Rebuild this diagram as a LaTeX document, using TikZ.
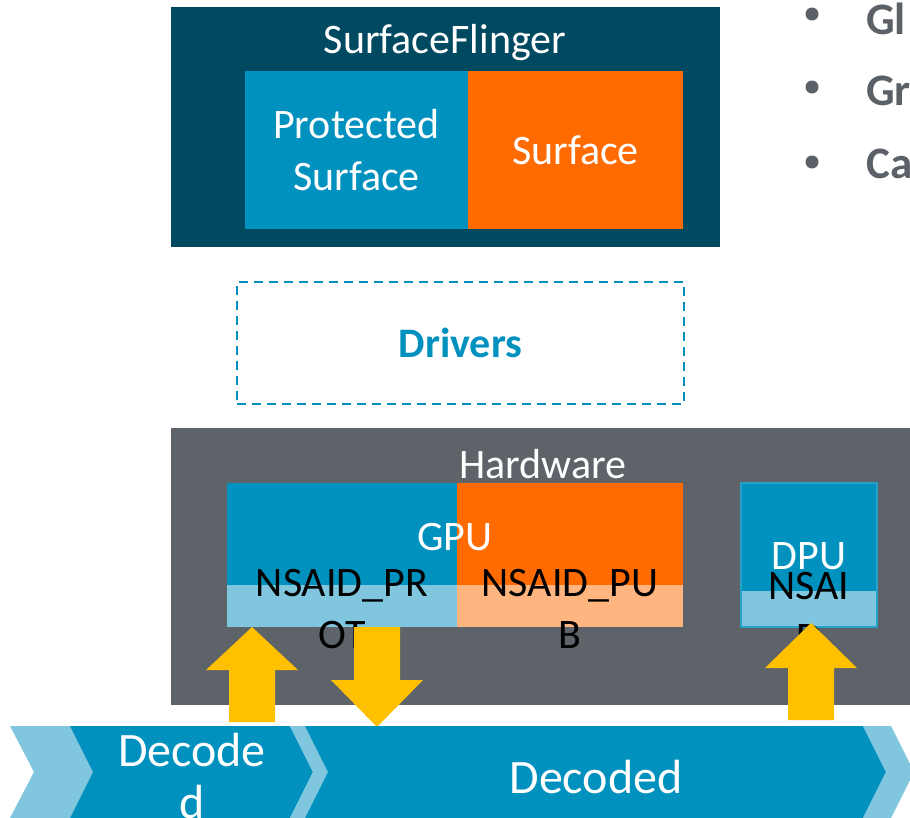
\documentclass[tikz,border=0pt]{standalone}
\usepackage{fontspec}
\setmainfont{Carlito}
\definecolor{sfdark}{HTML}{004A61}
\definecolor{prot}{HTML}{0091BE}
\definecolor{pub}{HTML}{FF6B00}
\definecolor{protlight}{HTML}{7FC6DE}
\definecolor{publight}{HTML}{FFB580}
\definecolor{hwgray}{HTML}{5D6369}
\definecolor{flow}{HTML}{FFC000}
\definecolor{bullet}{HTML}{5B6167}
\begin{document}
\begin{tikzpicture}[x=1pt,y=-1pt,
  blk/.style={inner sep=0pt,outer sep=0pt,anchor=north west,draw=none},
  lbl/.style={font=\fontsize{42}{52}\selectfont,align=center,inner sep=0pt,text=white},
  blacklbl/.style={lbl,text=black},
  bandlbl/.style={lbl,font=\fontsize{48}{52}\selectfont},
  flowarrow/.style={fill=flow},
  bulletitem/.style={font=\bfseries\fontsize{45}{52}\selectfont,text=bullet,anchor=west,inner sep=0pt}]
\useasboundingbox (0,0) rectangle (910,817);
\clip (0,0) rectangle (910,817);

% SurfaceFlinger and its surfaces
\node[blk,fill=sfdark,minimum width=549pt,minimum height=240pt] (sf) at (171,7) {};
\node[blk,fill=prot,minimum width=223pt,minimum height=158pt] (psurf) at (245,71) {};
\node[blk,fill=pub,minimum width=215pt,minimum height=158pt] (surf) at (468,71) {};
\node[lbl] (sflbl) at (445,43) {SurfaceFlinger};
\node[lbl] (psurflbl) at (psurf.center) {Protected\\Surface};
\node[lbl] (surflbl) at (surf.center) {Surface};

% Drivers
\node[blk,draw=prot,line width=2.5pt,dash pattern=on 9pt off 6pt,minimum width=447pt,minimum height=122pt] (drv) at (237,282) {};
\node[lbl,text=prot,font=\bfseries\fontsize{42}{48}\selectfont] (drvlbl) at (drv.center) {Drivers};

% Hardware
\node[blk,fill=hwgray,minimum width=760pt,minimum height=277pt] (hw) at (171,428) {};
\node[lbl] (hwlbl) at (543,464) {Hardware};
\node[blk,fill=prot,minimum width=230pt,minimum height=102pt] (gprot) at (227,483) {};
\node[blk,fill=protlight,minimum width=230pt,minimum height=42pt] (gprotl) at (227,585) {};
\node[blk,fill=pub,minimum width=226pt,minimum height=102pt] (gpub) at (457,483) {};
\node[blk,fill=publight,minimum width=226pt,minimum height=42pt] (gpubl) at (457,585) {};
\node[blk,fill=prot,minimum width=136pt,minimum height=108pt] (dpu) at (741,483) {};
\node[blk,fill=protlight,minimum width=136pt,minimum height=36pt] (dpul) at (741,591) {};
\draw[line width=1.2pt,draw=prot!70!protlight] (dpu.north west) rectangle (dpul.south east);
\node[lbl] (gpulbl) at (455,537) {GPU};
\node[lbl] (dpulbl) at (809,556) {DPU};
\node[blacklbl] (nprot) at (342,609) {NSAID\_PR\\OT};
\node[blacklbl] (npub) at (570,609) {NSAID\_PU\\B};
\node[blacklbl] (ndpu) at (809,612) {NSAI\\D};

% Data flow arrows
\fill[flowarrow] (252,627) -- (298,670) -- (275,670) -- (275,722) -- (229,722) -- (229,670) -- (206,670) -- cycle;
\fill[flowarrow] (354,627) -- (400,627) -- (400,680) -- (423,680) -- (377,727) -- (331,680) -- (354,680) -- cycle;
\fill[flowarrow] (811,623) -- (857,668) -- (834,668) -- (834,720) -- (788,720) -- (788,668) -- (765,668) -- cycle;

% Decoding pipeline chevrons
\fill[protlight] (10,726) -- (70,726) -- (93,772) -- (70,818) -- (10,818) -- (34,772) -- cycle;
\fill[prot] (70,726) -- (290,726) -- (313,772) -- (290,818) -- (70,818) -- (93,772) -- cycle;
\fill[protlight] (290,726) -- (305,726) -- (328,772) -- (305,818) -- (290,818) -- (313,772) -- cycle;
\fill[prot] (305,726) -- (863,726) -- (886,772) -- (863,818) -- (305,818) -- (328,772) -- cycle;
\fill[protlight] (863,726) -- (891,726) -- (914,772) -- (891,818) -- (863,818) -- (886,772) -- cycle;
\node[bandlbl] (dec1) at (192,776) {Decode\\d};
\node[bandlbl] (dec2) at (596,777) {Decoded};

% Bullet list
\fill[bullet] (812,14) circle (6.5);
\fill[bullet] (812,87) circle (6.5);
\fill[bullet] (812,162) circle (6.5);
\node[bulletitem] (b1) at (866,19) {Gl};
\node[bulletitem] (b2) at (866,91) {Gr};
\node[bulletitem] (b3) at (866,164) {Ca};
\end{tikzpicture}
\end{document}
